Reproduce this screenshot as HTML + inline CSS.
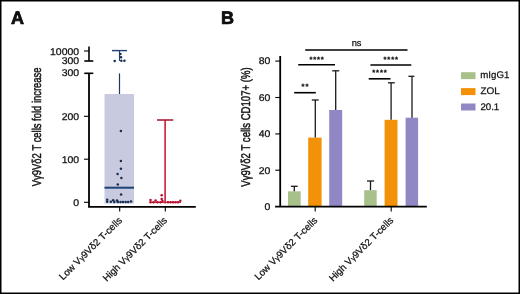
<!DOCTYPE html>
<html><head><meta charset="utf-8"><style>
html,body{margin:0;padding:0;background:#fff;}
svg{display:block;will-change:transform;}
text{font-family:"Liberation Sans",sans-serif;fill:#111;stroke:#111;stroke-width:0.25px;text-rendering:geometricPrecision;}
</style></head><body>
<svg width="520" height="294" viewBox="0 0 520 294">
<rect x="0" y="0" width="520" height="294" fill="#fff"/>
<rect x="0.75" y="0.75" width="518.5" height="292.5" fill="none" stroke="#000" stroke-width="1.5"/>

<!-- Panel letters -->
<text x="11" y="23.5" font-size="18" font-weight="bold" fill="#000" style="stroke:#000;stroke-width:0.7px">A</text>
<text x="221" y="23.5" font-size="18" font-weight="bold" fill="#000" style="stroke:#000;stroke-width:0.7px">B</text>

<!-- ===== Panel A ===== -->
<g stroke="#000" fill="none">
  <!-- upper broken axis -->
  <line x1="89" y1="46.5" x2="89" y2="61" stroke-width="1.6"/>
  <line x1="84" y1="51" x2="89" y2="51" stroke-width="1.1"/>
  <line x1="84.3" y1="61" x2="93.3" y2="61" stroke-width="1.6"/>
  <!-- main axis -->
  <line x1="84.3" y1="73.3" x2="93.3" y2="73.3" stroke-width="1.6"/>
  <line x1="89" y1="73.3" x2="89" y2="206.8" stroke-width="1.8"/>
  <line x1="88.1" y1="206.8" x2="195.8" y2="206.8" stroke-width="1.8"/>
  <line x1="84" y1="116.3" x2="89" y2="116.3" stroke-width="1.1"/>
  <line x1="84" y1="159.2" x2="89" y2="159.2" stroke-width="1.1"/>
  <line x1="84" y1="202.3" x2="89" y2="202.3" stroke-width="1.1"/>
  <!-- x ticks -->
  <line x1="119.7" y1="206.8" x2="119.7" y2="211.5" stroke-width="1.1"/>
  <line x1="165.3" y1="206.8" x2="165.3" y2="211.5" stroke-width="1.1"/>
</g>
<g font-size="9.7" text-anchor="end">
  <text transform="translate(79.1,54.55) scale(1.08,1)">10000</text>
  <text transform="translate(79.1,64.15) scale(1.08,1)">300</text>
  <text transform="translate(79.1,76.3) scale(1.08,1)">300</text>
  <text transform="translate(79.1,119.65) scale(1.08,1)">200</text>
  <text transform="translate(79.1,162.75) scale(1.08,1)">100</text>
  <text transform="translate(79.1,205.75) scale(1.08,1)">0</text>
</g>
<text transform="rotate(-90)" x="-186.2" y="40.9" font-size="12.7" style="stroke-width:0.45px" textLength="118.7" lengthAdjust="spacingAndGlyphs">Vγ9Vδ2 T cells fold increase</text>

<!-- box -->
<rect x="104.5" y="94" width="29.5" height="109.6" fill="#c8cbe0"/>
<g stroke="#1d4273" fill="none">
  <line x1="119.5" y1="73.4" x2="119.5" y2="94" stroke-width="1.2" stroke="#1e3765"/>
  <line x1="104.5" y1="187.7" x2="134" y2="187.7" stroke-width="2"/>
  <line x1="112" y1="50.6" x2="127" y2="50.6" stroke-width="1.4"/>
  <line x1="119.5" y1="50.6" x2="119.5" y2="61" stroke-width="1.1"/>
</g>
<g fill="#152c50">
  <circle cx="114.7" cy="60.9" r="1.25"/>
  <circle cx="120.4" cy="54" r="1.25"/>
  <circle cx="121" cy="57.3" r="1.25"/>
  <circle cx="121.3" cy="60.7" r="1.25"/>
  <circle cx="124.4" cy="60.7" r="1.25"/>
  <circle cx="120.9" cy="131" r="1.25"/>
  <circle cx="120.9" cy="160.9" r="1.25"/>
  <circle cx="120.9" cy="168.8" r="1.25"/>
  <circle cx="117.6" cy="174" r="1.25"/>
  <circle cx="121.4" cy="177.9" r="1.25"/>
  <circle cx="117.8" cy="184.6" r="1.25"/>
  <circle cx="121.1" cy="194.5" r="1.25"/>
  <circle cx="107.2" cy="199.7" r="1.25"/>
  <circle cx="107.2" cy="201.8" r="1.25"/>
  <circle cx="110.8" cy="201.8" r="1.25"/>
  <circle cx="113.2" cy="200.3" r="1.25"/>
  <circle cx="114.3" cy="202" r="1.25"/>
  <circle cx="117" cy="200.6" r="1.25"/>
  <circle cx="117.8" cy="202" r="1.25"/>
  <circle cx="120.5" cy="202" r="1.25"/>
  <circle cx="123" cy="202" r="1.25"/>
  <circle cx="125.6" cy="202" r="1.25"/>
  <circle cx="128.2" cy="202" r="1.25"/>
  <circle cx="131" cy="201.5" r="1.25"/>
</g>
<!-- red group -->
<g stroke="#c8102e" fill="none">
  <line x1="157" y1="120" x2="173.2" y2="120" stroke-width="1.5" stroke="#a3122c"/>
  <line x1="165.1" y1="120" x2="165.1" y2="203.5" stroke-width="1.5"/>
  <line x1="150" y1="202.3" x2="181" y2="202.3" stroke-width="1.2"/>
</g>
<g fill="#b8102c">
  <circle cx="161.7" cy="195.2" r="1.25"/>
  <circle cx="161.7" cy="198.9" r="1.25"/>
  <circle cx="150.5" cy="200" r="1.25"/>
  <circle cx="150.5" cy="202.3" r="1.25"/>
  <circle cx="153.5" cy="202.3" r="1.25"/>
  <circle cx="155.6" cy="200.4" r="1.25"/>
  <circle cx="157.5" cy="202.3" r="1.25"/>
  <circle cx="160.5" cy="202.3" r="1.25"/>
  <circle cx="162.5" cy="201" r="1.25"/>
  <circle cx="168" cy="202.3" r="1.25"/>
  <circle cx="170.5" cy="202.3" r="1.25"/>
  <circle cx="173" cy="202.3" r="1.25"/>
  <circle cx="175.5" cy="202.3" r="1.25"/>
  <circle cx="178" cy="202.3" r="1.25"/>
  <circle cx="180.3" cy="200.8" r="1.25"/>
</g>
<!-- x labels A -->
<g font-size="9.7" text-anchor="end">
  <text transform="translate(122.6,221.0) rotate(-45)">Low V<tspan font-size="7.8">γ</tspan>9Vδ2 T-cells</text>
  <text transform="translate(167.8,221.0) rotate(-45)">High V<tspan font-size="7.8">γ</tspan>9Vδ2 T-cells</text>
</g>

<!-- ===== Panel B ===== -->
<g fill="#a8c08a">
  <rect x="288" y="191.3" width="12.7" height="15"/>
  <rect x="364.2" y="190.2" width="12.5" height="16"/>
</g>
<g fill="#f39108">
  <rect x="308.2" y="137.6" width="13.4" height="69"/>
  <rect x="384.6" y="119.8" width="12.9" height="87"/>
</g>
<g fill="#9088c4">
  <rect x="329.2" y="110" width="13" height="97"/>
  <rect x="405.6" y="117.7" width="12.5" height="89"/>
</g>
<g stroke="#1a1a1a" fill="none" stroke-width="1.3">
  <!-- error bars -->
  <line x1="294.3" y1="186.3" x2="294.3" y2="191.3"/>
  <line x1="290.9" y1="186.3" x2="297.7" y2="186.3"/>
  <line x1="315.3" y1="100" x2="315.3" y2="137.6"/>
  <line x1="311.8" y1="100" x2="318.7" y2="100"/>
  <line x1="335.7" y1="70.8" x2="335.7" y2="110"/>
  <line x1="332.2" y1="70.8" x2="339.3" y2="70.8"/>
  <line x1="370.5" y1="181" x2="370.5" y2="190.2"/>
  <line x1="367" y1="181" x2="374.1" y2="181"/>
  <line x1="391.1" y1="82.8" x2="391.1" y2="119.8"/>
  <line x1="388" y1="82.8" x2="394.8" y2="82.8"/>
  <line x1="412" y1="76.3" x2="412" y2="117.7"/>
  <line x1="408.4" y1="76.3" x2="414.4" y2="76.3"/>
</g>
<g stroke="#000" fill="none">
  <line x1="280.2" y1="56" x2="280.2" y2="206.6" stroke-width="1.8"/>
  <line x1="275.1" y1="206.6" x2="426.8" y2="206.6" stroke-width="1.8"/>
  <line x1="275.3" y1="61.1" x2="280.2" y2="61.1" stroke-width="1.1"/>
  <line x1="275.3" y1="97.5" x2="280.2" y2="97.5" stroke-width="1.1"/>
  <line x1="275.3" y1="133.9" x2="280.2" y2="133.9" stroke-width="1.1"/>
  <line x1="275.3" y1="170.2" x2="280.2" y2="170.2" stroke-width="1.1"/>
  <line x1="315.2" y1="206.6" x2="315.2" y2="211.5" stroke-width="1.1"/>
  <line x1="391.2" y1="206.6" x2="391.2" y2="211.5" stroke-width="1.1"/>
  <!-- significance lines -->
  <line x1="305.2" y1="50" x2="407.5" y2="50" stroke-width="1.6"/>
  <line x1="298.2" y1="64.7" x2="335" y2="64.7" stroke-width="1.6"/>
  <line x1="294.2" y1="92.7" x2="315.8" y2="92.7" stroke-width="1.6"/>
  <line x1="370.4" y1="65" x2="411.3" y2="65" stroke-width="1.6"/>
  <line x1="368.7" y1="78.8" x2="390.5" y2="78.8" stroke-width="1.6"/>
</g>
<g font-size="9.7" text-anchor="end">
  <text transform="translate(270.3,64.15) scale(1.08,1)">80</text>
  <text transform="translate(270.3,101) scale(1.08,1)">60</text>
  <text transform="translate(270.3,137.4) scale(1.08,1)">40</text>
  <text transform="translate(270.3,173.7) scale(1.08,1)">20</text>
  <text transform="translate(270.3,210.2) scale(1.08,1)">0</text>
</g>
<text x="356.55" y="46.1" font-size="9.3" text-anchor="middle">ns</text>
<g font-size="7.6" text-anchor="middle" font-weight="bold" fill="#111">
  <text x="311.0" y="61.80">*</text>
  <text x="314.7" y="61.80">*</text>
  <text x="318.5" y="61.80">*</text>
  <text x="322.3" y="61.80">*</text>
  <text x="303.0" y="89.49">*</text>
  <text x="306.9" y="89.49">*</text>
  <text x="385.0" y="61.80">*</text>
  <text x="388.8" y="61.80">*</text>
  <text x="392.7" y="61.80">*</text>
  <text x="396.6" y="61.80">*</text>
  <text x="373.7" y="75.49">*</text>
  <text x="377.6" y="75.49">*</text>
  <text x="381.5" y="75.49">*</text>
  <text x="385.3" y="75.49">*</text>
</g>
<text transform="rotate(-90)" x="-186.7" y="249.9" font-size="12.7" style="stroke-width:0.45px" textLength="119.3" lengthAdjust="spacingAndGlyphs">Vγ9Vδ2 T cells CD107+ (%)</text>
<g font-size="9.7" text-anchor="end">
  <text transform="translate(318.0,221.0) rotate(-45)">Low V<tspan font-size="7.8">γ</tspan>9Vδ2 T-cells</text>
  <text transform="translate(393.9,221.0) rotate(-45)">High V<tspan font-size="7.8">γ</tspan>9Vδ2 T-cells</text>
</g>

<!-- legend -->
<rect x="461" y="72.2" width="14.5" height="6.9" fill="#a8c08a"/>
<rect x="461" y="88.1" width="14.5" height="7" fill="#f39108"/>
<rect x="461" y="103.5" width="14.5" height="7" fill="#9088c4"/>
<g font-size="9.6">
  <text transform="translate(480.3,78.3) scale(1.01,1)">mIgG1</text>
  <text transform="translate(480.5,93.9) scale(1.04,1)">ZOL</text>
  <text transform="translate(480.4,109.6) scale(1.01,1)">20.1</text>
</g>
</svg>
</body></html>
